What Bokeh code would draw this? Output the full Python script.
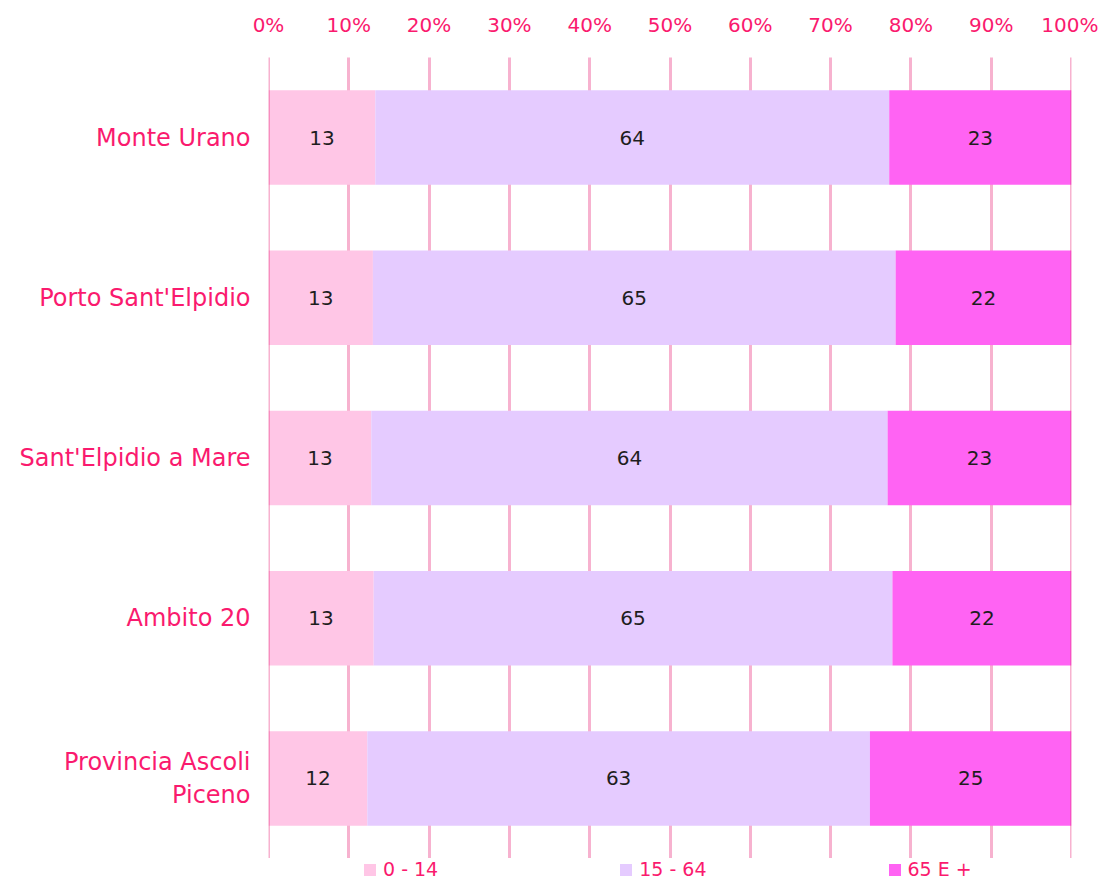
from bokeh.plotting import figure
from bokeh.layouts import column
from bokeh.models import (Range1d, FactorRange, FixedTicker, PrintfTickFormatter,
                          ColumnDataSource, Legend, LegendItem, Span)
from bokeh.embed import file_html
from bokeh.resources import INLINE
from bokeh.core.properties import value

# ---- data ----
categories = ["Monte Urano", "Porto Sant'Elpidio", "Sant'Elpidio a Mare",
              "Ambito 20", "Provincia Ascoli\nPiceno"]
age_0_14 = [13.3, 13.0, 12.8, 13.1, 12.3]
age_15_64 = [64.0, 65.1, 64.3, 64.6, 62.6]
age_65_plus = [22.7, 21.9, 22.9, 22.3, 25.1]
series_names = ["0 - 14", "15 - 64", "65 E +"]
x_ticks = [0, 10, 20, 30, 40, 50, 60, 70, 80, 90, 100]

colors = ["#ffc6e6", "#e5cbff", "#ff63f3"]
pink = "#fa1a6e"
grid_color = "#ea3380"
font = "DejaVu Sans"

factors = list(reversed(categories))

src = ColumnDataSource(dict(cat=categories, a=age_0_14, b=age_15_64, c=age_65_plus))

p = figure(width=1098, height=858, output_backend="svg", toolbar_location=None,
           x_range=Range1d(0, 100), y_range=FactorRange(factors=factors),
           x_axis_location="above",
           min_border_left=268, min_border_top=57, min_border_right=27, min_border_bottom=0)
p.outline_line_color = None
p.background_fill_color = "white"

p.hbar_stack(["a", "b", "c"], y="cat", height=0.59, color=colors,
             line_color=None, source=src)

# value labels
lx, ly, lt = [], [], []
for i, cat in enumerate(categories):
    vals = [age_0_14[i], age_15_64[i], age_65_plus[i]]
    start = 0.0
    for v in vals:
        lx.append(start + v / 2.0)
        ly.append(cat)
        lt.append(str(int(round(v))))
        start += v
lsrc = ColumnDataSource(dict(x=lx, y=ly, t=lt))
p.text(x="x", y="y", text="t", source=lsrc, text_align="center", text_baseline="middle",
       text_font=value(font), text_font_size="20px", text_color="#1e1e1e")

# axes
xa = p.xaxis[0]
xa.ticker = FixedTicker(ticks=x_ticks)
xa.formatter = PrintfTickFormatter(format="%d%%")
xa.axis_line_color = None
xa.major_tick_line_color = None
xa.minor_tick_line_color = None
xa.major_label_text_font = font
xa.major_label_text_font_size = "20px"
xa.major_label_text_color = pink
xa.major_label_standoff = 15

ya = p.yaxis[0]
ya.axis_line_color = None
ya.major_tick_line_color = None
ya.minor_tick_line_color = None
ya.major_label_text_font = font
ya.major_label_text_font_size = "24px"
ya.major_label_text_color = pink
ya.major_label_standoff = 12

p.ygrid.grid_line_color = None
p.xgrid.ticker = FixedTicker(ticks=x_ticks)
p.xgrid.grid_line_color = grid_color
p.xgrid.grid_line_width = 3
p.xgrid.grid_line_dash = "1 1"
p.xgrid.grid_line_alpha = 0.75

# edge lines at 0% and 100%
for loc in (x_ticks[0], x_ticks[-1]):
    p.add_layout(Span(location=loc, dimension="height", line_color=grid_color,
                      line_width=3, line_dash="1 1", line_alpha=0.75))

# legend strip below the chart (zero-height proxy bars carry the legend swatches)
p2 = figure(width=1098, height=22, output_backend="svg", toolbar_location=None,
            x_range=Range1d(0, 100), y_range=FactorRange(factors=factors),
            x_axis_location=None, y_axis_location=None,
            min_border_left=0, min_border_right=0, min_border_top=0, min_border_bottom=0)
p2.outline_line_color = None
p2.grid.visible = False
proxies = p2.hbar_stack(["a", "b", "c"], y="cat", height=0.0, color=colors,
                        line_color=None, source=src)
items = [LegendItem(label=n, renderers=[r]) for n, r in zip(series_names, proxies)]

legend = Legend(items=items, orientation="horizontal", location=(94, 0),
                glyph_width=15, glyph_height=15, label_standoff=6,
                spacing=180, padding=0, margin=0,
                border_line_color=None, background_fill_alpha=0,
                label_text_font=font, label_text_font_size="19px", label_text_color=pink,
                label_height=18)
p2.add_layout(legend, "center")

layout = column(p, p2, spacing=0)
open("out.html", "w").write(file_html(layout, INLINE))
